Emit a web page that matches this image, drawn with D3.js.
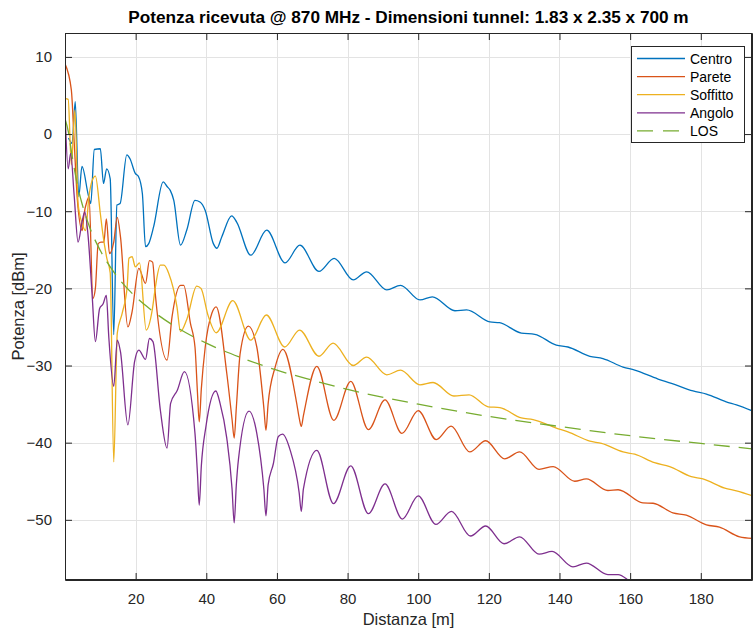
<!DOCTYPE html>
<html><head><meta charset="utf-8">
<script src="https://cdn.jsdelivr.net/npm/d3@7"></script>
<style>body{margin:0;background:#fff;} svg{display:block;font-family:"Liberation Sans",Arial,Helvetica,sans-serif;}</style>
</head><body>
<svg id="chart" width="753" height="630"></svg>
<script>
const titleText = "Potenza ricevuta @ 870 MHz - Dimensioni tunnel: 1.83 x 2.35 x 700 m";
const xLabel = "Distanza [m]";
const yLabel = "Potenza [dBm]";
const seriesNames = ["Centro", "Parete", "Soffitto", "Angolo", "LOS"];
const xTicks = [20, 40, 60, 80, 100, 120, 140, 160, 180];
const yTicks = [-50, -40, -30, -20, -10, 0, 10];

const centroX = [1, 2, 2.9, 3.9, 4.8, 6.6, 7.3, 8.3, 10.0, 10.9, 11.8, 12.8, 13.8, 14.7, 15.6, 17.5, 18.4, 19.9, 20.8, 21.9, 22.8, 23.7, 25.1, 27.8, 28.9, 29.8, 30.8, 32.7, 34.5, 36.8, 38.2, 39.7, 42.0, 43.0, 44.4, 47.2, 48.6, 52.6, 57.1, 62.3, 66.5, 71.9, 76.2, 81.6, 85.4, 91.1, 95.0, 100.5, 104.0, 110.4, 113.7, 120.3, 123, 129.2, 133, 139.1, 142.4, 148.6, 152.3, 158, 161.3, 167.9, 171.7, 177.8, 181.6, 187.2, 190.1, 194.7];
const centroY = [-0.5, -1.2, 4.2, -8.1, -4.2, -7.9, -9.0, -2.0, -1.9, -6.4, -4.5, -5.8, -26.0, -9.2, -9.0, -2.7, -3.2, -5.1, -5.5, -7.7, -14.6, -14.2, -12.0, -6.2, -6.8, -7.3, -8.6, -14.4, -12.4, -8.6, -8.8, -9.9, -14.2, -14.8, -13.3, -10.6, -11.4, -15.7, -12.45, -16.7, -14.4, -17.8, -16.1, -18.9, -17.85, -20.2, -19.6, -21.5, -21.1, -22.9, -22.8, -24.35, -24.45, -25.8, -25.95, -27.35, -27.6, -28.8, -29.1, -30.2, -30.6, -31.75, -32.3, -33.3, -33.7, -34.7, -35.1, -35.9];

const pareteX = [0, 1.8, 2.6, 3.5, 4.9, 5.3, 6.3, 6.8, 7.9, 8.6, 9.4, 10.2, 11.0, 11.7, 12.6, 13.8, 14.8, 15.7, 17.8, 19.0, 20.9, 22.8, 23.9, 24.8, 25.6, 28.9, 30.3, 32.7, 33.6, 35.5, 36.8, 37.5, 38.0, 38.6, 39.7, 41.6, 42.8, 45.8, 47.3, 47.9, 48.5, 49.6, 51.9, 54.3, 56.3, 56.9, 57.5, 59.5, 61.7, 65.6, 66.3, 66.9, 67.5, 71.3, 76.1, 80.9, 85.9, 90.6, 95.4, 100.0, 105.1, 109.3, 114.6, 119.1, 124.5, 128.7, 134.2, 138.2, 144.3, 147.6, 153.7, 156.6, 163.6, 166.5, 172.1, 175.9, 181.6, 185.3, 191, 194.7];
const pareteY = [9.1, 5.7, -1.0, -8.5, -12.5, -10.7, -8.6, -8.1, -21.3, -20.0, -14.2, -14.0, -14.0, -11.0, -15.5, -14.0, -10.8, -13.3, -25.0, -23.0, -17.4, -19.35, -16.4, -16.6, -20.9, -29.3, -23.7, -19.6, -19.6, -24.5, -27.6, -33.5, -37.3, -33.0, -27.6, -23.2, -22.4, -31.0, -37.0, -39.4, -35.5, -28.4, -24.9, -27.6, -35.5, -38.4, -35.0, -30.2, -27.9, -34.9, -36.8, -37.9, -36.5, -30.1, -37.1, -32.05, -38.3, -34.45, -38.8, -35.85, -39.6, -37.85, -41.2, -39.75, -42.1, -41.2, -43.45, -43.1, -45.0, -44.7, -46.2, -46.1, -47.8, -47.85, -49.1, -49.4, -50.65, -50.95, -52.2, -52.4];

const soffittoX = [0.1, 0.9, 1.8, 2.8, 3.7, 4.8, 5.8, 6.8, 7.7, 8.6, 10.0, 10.7, 11.8, 12.8, 13.8, 14.8, 16.2, 17.6, 18.1, 19.0, 19.9, 21.1, 23.0, 24.7, 25.6, 27.0, 28.0, 29.4, 31.7, 32.7, 34.5, 37.3, 38.5, 40.5, 42.8, 47.5, 52.6, 57.0, 62.2, 66.4, 71.9, 75.9, 81.6, 85.4, 91.1, 95.0, 100.5, 104.2, 110.1, 114.4, 119.8, 123.1, 129.2, 132.5, 139.1, 142.4, 148.6, 151.9, 158, 161.3, 166.9, 171.2, 177.3, 180.6, 186.8, 190.1, 194.7];
const soffittoY = [4.6, 4.5, -4.0, 3.1, -9.0, -11.5, -12.5, -8.0, -6.0, -5.45, -10.3, -12.9, -16.0, -18.0, -42.5, -25.8, -23.2, -19.8, -16.1, -15.9, -17.2, -16.7, -25.4, -22.8, -19.8, -17.0, -17.0, -18.1, -22.4, -25.6, -24.0, -19.7, -20.0, -23.5, -25.75, -21.6, -26.7, -23.45, -27.6, -25.4, -28.8, -27.1, -30.0, -28.9, -31.2, -30.6, -32.5, -32.2, -33.95, -33.8, -35.35, -35.45, -36.8, -37.0, -38.1, -38.6, -39.8, -40.1, -41.2, -41.5, -42.6, -43.1, -44.4, -44.7, -45.9, -46.25, -46.9];

const angoloX = [0.1, 0.9, 1.6, 2.6, 3.7, 4.9, 5.6, 6.5, 7.7, 8.6, 9.8, 10.8, 11.7, 12.4, 13.8, 14.8, 15.7, 17.8, 19.7, 20.9, 22.8, 23.9, 24.9, 27.0, 28.9, 29.9, 31.8, 33.8, 36.8, 37.5, 38.0, 38.6, 39.9, 42.7, 43.9, 45.8, 47.3, 47.9, 48.5, 49.1, 52.1, 54.3, 56.3, 56.9, 57.5, 59.0, 60.4, 61.6, 63.7, 66.3, 66.9, 67.5, 71.3, 76.0, 80.9, 85.9, 90.6, 95.5, 100.0, 105.0, 109.4, 114.8, 119.1, 124.3, 128.7, 134.2, 137.9, 143.8, 147.6, 153.7, 156.6, 160, 165];
const angoloY = [1.8, -4.5, -2.5, -8.0, -14.0, -11.2, -10.1, -13.0, -21.0, -26.9, -22.6, -22.0, -20.9, -26.3, -32.7, -26.7, -28.2, -37.7, -29.5, -28.0, -29.2, -26.5, -26.9, -35.8, -40.7, -34.9, -33.2, -30.8, -38.8, -44.0, -48.1, -43.0, -37.9, -33.3, -34.9, -39.4, -46.0, -50.4, -45.5, -42.2, -35.9, -38.8, -46.0, -49.5, -45.5, -42.7, -39.2, -38.9, -40.9, -46.5, -48.9, -46.0, -41.0, -47.9, -43.0, -49.2, -45.35, -49.9, -46.9, -50.6, -48.9, -52.1, -50.8, -53.1, -52.2, -54.45, -54.1, -56.1, -55.6, -57.1, -57.1, -58.0, -59.5];

const losX = [0, 1, 2, 3, 4, 5, 7, 10, 14, 20, 25, 30, 40, 50, 60, 70, 80, 100, 120, 140, 160, 180, 194.5];
const losY = [2.0, 0.2, -2.8, -5.4, -7.6, -9.3, -12.1, -15.1, -18.0, -21.1, -23.0, -24.6, -27.1, -29.0, -30.6, -31.9, -33.1, -35.0, -36.6, -37.9, -39.1, -40.1, -40.8];

const colors = ["#0072BD", "#D95319", "#EDB120", "#7E2F8E", "#77AC30"];
const seriesX = [centroX, pareteX, soffittoX, angoloX, losX];
const seriesY = [centroY, pareteY, soffittoY, angoloY, losY];

const svg = d3.select("#chart");
const L = 65, R = 752, T = 33, B = 580;
const x = d3.scaleLinear().domain([0, 194.5]).range([L, R]);
const y = d3.scaleLinear().domain([-57.8, 13.1]).range([B, T]);
const axisColor = "#262626";

svg.append("rect").attr("x", 0).attr("y", 0).attr("width", 753).attr("height", 630).attr("fill", "#fff");

// grid
const grid = svg.append("g");
xTicks.forEach(t => grid.append("line").attr("x1", Math.round(x(t)) + 0.5).attr("x2", Math.round(x(t)) + 0.5).attr("y1", T).attr("y2", B).attr("stroke", "#e3e3e3").attr("stroke-width", 1));
yTicks.forEach(t => grid.append("line").attr("y1", Math.round(y(t)) + 0.5).attr("y2", Math.round(y(t)) + 0.5).attr("x1", L).attr("x2", R).attr("stroke", "#e3e3e3").attr("stroke-width", 1));

// clip
svg.append("clipPath").attr("id", "clip").append("rect").attr("x", L).attr("y", T).attr("width", R - L).attr("height", B - T);

const line = d3.line().x(d => x(d[0])).y(d => y(d[1])).curve(d3.curveMonotoneX);
const plot = svg.append("g").attr("clip-path", "url(#clip)");
seriesNames.forEach((name, i) => {
  const pts = seriesX[i].map((v, j) => [v, seriesY[i][j]]);
  plot.append("path").datum(pts).attr("d", line).attr("fill", "none")
    .attr("stroke", colors[i]).attr("stroke-width", 1.3)
    .attr("stroke-dasharray", name === "LOS" ? "16,9" : null)
    .attr("stroke-linejoin", "round");
});

// axes
const ax = svg.append("g");
const xb = d3.axisBottom(x).tickValues(xTicks).tickSize(-7).tickSizeOuter(0).tickPadding(13);
const xt = d3.axisTop(x).tickValues(xTicks).tickSize(-7).tickSizeOuter(0).tickFormat("");
const yl = d3.axisLeft(y).tickValues(yTicks).tickSize(-7).tickSizeOuter(0).tickPadding(13);
const yr = d3.axisRight(y).tickValues(yTicks).tickSize(-7).tickSizeOuter(0).tickFormat("");
function style(g) {
  g.selectAll("path").attr("stroke", axisColor);
  g.selectAll("line").attr("stroke", axisColor);
  g.selectAll("text").attr("fill", axisColor).attr("font-size", 15).attr("font-family", "Liberation Sans, Arial, sans-serif");
}
ax.append("g").attr("transform", `translate(0,${B})`).call(xb).call(style);
ax.append("g").attr("transform", `translate(0,${T})`).call(xt).call(style);
ax.append("g").attr("transform", `translate(${L},0)`).call(yl).call(style);
ax.append("g").attr("transform", `translate(${R},0)`).call(yr).call(style);
svg.append("rect").attr("x", L + 0.5).attr("y", T + 0.5).attr("width", R - L - 1).attr("height", B - T - 1)
  .attr("fill", "none").attr("stroke", axisColor).attr("stroke-width", 1);

// title & labels
svg.append("text").attr("x", (L + R) / 2).attr("y", 23).attr("text-anchor", "middle")
  .attr("font-size", 17.2).attr("font-weight", "bold").attr("fill", "#000").text(titleText);
svg.append("text").attr("x", (L + R) / 2).attr("y", 625).attr("text-anchor", "middle")
  .attr("font-size", 16.5).attr("fill", axisColor).text(xLabel);
svg.append("text").attr("transform", `translate(24,${(T + B) / 2}) rotate(-90)`).attr("text-anchor", "middle")
  .attr("font-size", 16.5).attr("fill", axisColor).text(yLabel);

// legend
const lg = svg.append("g");
lg.append("rect").attr("x", 631.5).attr("y", 46.5).attr("width", 113).attr("height", 96)
  .attr("fill", "#fff").attr("stroke", axisColor).attr("stroke-width", 1);
seriesNames.forEach((name, i) => {
  const yy = 58.5 + i * 18.1;
  lg.append("line").attr("x1", 637).attr("x2", 685).attr("y1", yy).attr("y2", yy)
    .attr("stroke", colors[i]).attr("stroke-width", 1.3)
    .attr("stroke-dasharray", name === "LOS" ? "16,10" : null);
  lg.append("text").attr("x", 690).attr("y", yy + 5).attr("font-size", 14).attr("fill", "#000").text(name);
});
</script>
</body></html>
